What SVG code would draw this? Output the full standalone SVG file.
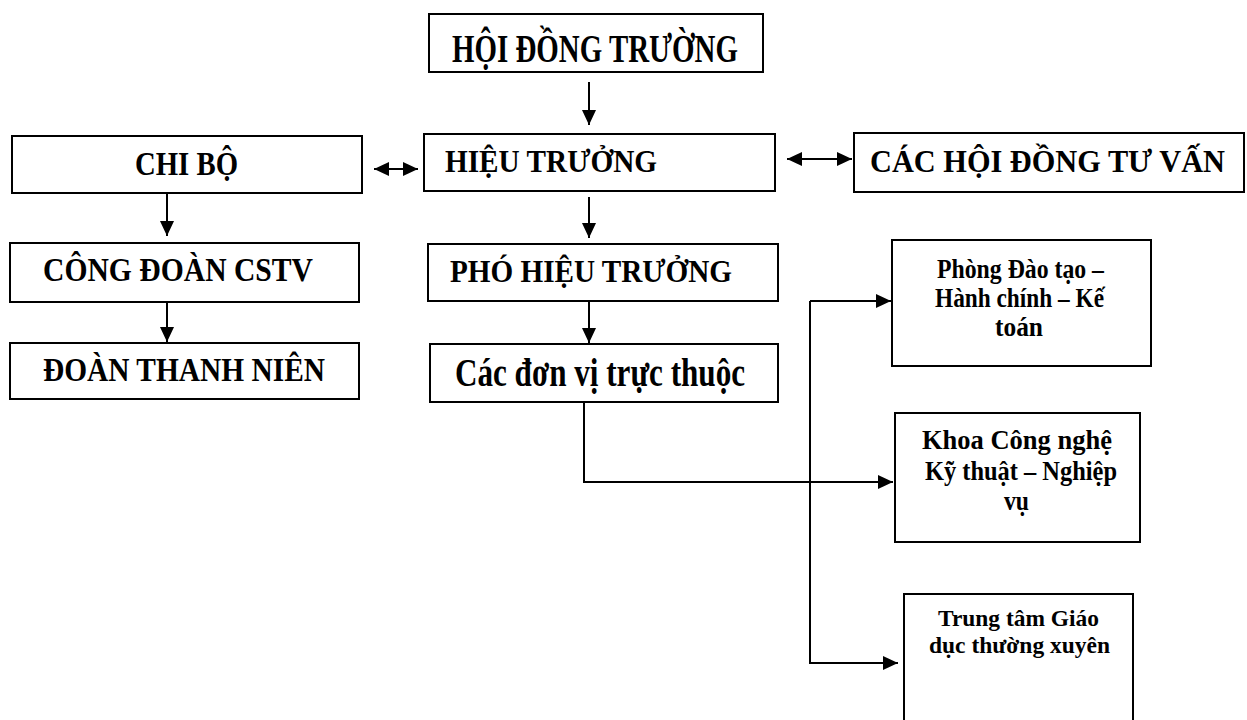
<svg xmlns="http://www.w3.org/2000/svg" width="1247" height="720" viewBox="0 0 1247 720">
<style>
  .box { fill: #fff; stroke: #000; stroke-width: 2; }
  .t { font-family: "Liberation Serif", "Times New Roman", serif; font-weight: bold; fill: #000; }
  .c { fill: none; stroke: #000; stroke-width: 2; }
</style>
<defs>
  <marker id="ah" markerUnits="userSpaceOnUse" markerWidth="17" markerHeight="15" refX="15" refY="7" orient="auto-start-reverse">
    <path d="M0,0 L15,7 L0,14 Z" fill="#000"/>
  </marker>
</defs>
<rect width="1247" height="720" fill="#fff"/>

<g id="connectors">
  <line class="c" x1="589" y1="82" x2="589" y2="125" marker-end="url(#ah)"/>
  <line class="c" x1="589" y1="197" x2="589" y2="238" marker-end="url(#ah)"/>
  <line class="c" x1="589" y1="301" x2="589" y2="343" marker-end="url(#ah)"/>
  <line class="c" x1="167" y1="193" x2="167" y2="236" marker-end="url(#ah)"/>
  <line class="c" x1="167" y1="302" x2="167" y2="342" marker-end="url(#ah)"/>
  <line class="c" x1="374" y1="169" x2="418" y2="169" marker-start="url(#ah)" marker-end="url(#ah)"/>
  <line class="c" x1="787" y1="159" x2="852" y2="159" marker-start="url(#ah)" marker-end="url(#ah)"/>
  <polyline class="c" points="584,402 584,482 893,482" marker-end="url(#ah)"/>
  <polyline class="c" points="810,301 891,301" marker-end="url(#ah)"/>
  <polyline class="c" points="810,301 810,663 898,663" marker-end="url(#ah)"/>
  <line class="c" x1="929" y1="268" x2="929" y2="329"/>
</g>

<g id="hoi-dong-truong">
  <rect class="box" x="429" y="14" width="334" height="58"/>
  <text class="t" x="452" y="62" font-size="41" textLength="286" lengthAdjust="spacingAndGlyphs">HỘI ĐỒNG TRƯỜNG</text>
</g>
<g id="chi-bo">
  <rect class="box" x="12" y="136" width="350" height="57"/>
  <text class="t" x="135" y="175" font-size="33" textLength="103" lengthAdjust="spacingAndGlyphs">CHI BỘ</text>
</g>
<g id="hieu-truong">
  <rect class="box" x="424" y="134" width="351" height="57"/>
  <text class="t" x="445" y="172" font-size="31" textLength="212" lengthAdjust="spacingAndGlyphs">HIỆU TRƯỞNG</text>
</g>
<g id="cac-hoi-dong-tu-van">
  <rect class="box" x="854" y="133" width="390" height="59"/>
  <text class="t" x="870" y="172" font-size="31" textLength="355" lengthAdjust="spacingAndGlyphs">CÁC HỘI ĐỒNG TƯ VẤN</text>
</g>
<g id="cong-doan">
  <rect class="box" x="10" y="243" width="349" height="59"/>
  <text class="t" x="43" y="281" font-size="33" textLength="270" lengthAdjust="spacingAndGlyphs">CÔNG ĐOÀN CSTV</text>
</g>
<g id="doan-thanh-nien">
  <rect class="box" x="10" y="343" width="349" height="56"/>
  <text class="t" x="43" y="381" font-size="33" textLength="282" lengthAdjust="spacingAndGlyphs">ĐOÀN THANH NIÊN</text>
</g>
<g id="pho-hieu-truong">
  <rect class="box" x="428" y="244" width="350" height="57"/>
  <text class="t" x="450" y="282" font-size="31" textLength="282" lengthAdjust="spacingAndGlyphs">PHÓ HIỆU TRƯỞNG</text>
</g>
<g id="cac-don-vi">
  <rect class="box" x="430" y="344" width="348" height="58"/>
  <text class="t" x="455" y="386" font-size="40" textLength="290" lengthAdjust="spacingAndGlyphs">Các đơn vị trực thuộc</text>
</g>
<g id="phong-dao-tao">
  <rect class="box" x="892" y="240" width="259" height="126"/>
  <text class="t" x="937" y="278" font-size="27" textLength="167" lengthAdjust="spacingAndGlyphs">Phòng Đào tạo –</text>
  <text class="t" x="935" y="307" font-size="27" textLength="169" lengthAdjust="spacingAndGlyphs">Hành chính – Kế</text>
  <text class="t" x="995" y="336" font-size="27" textLength="48" lengthAdjust="spacingAndGlyphs">toán</text>
</g>
<g id="khoa-cong-nghe">
  <rect class="box" x="895" y="413" width="245" height="129"/>
  <text class="t" x="922" y="449" font-size="27" textLength="190" lengthAdjust="spacingAndGlyphs">Khoa Công nghệ</text>
  <text class="t" x="925" y="480" font-size="27" textLength="192" lengthAdjust="spacingAndGlyphs">Kỹ thuật – Nghiệp</text>
  <text class="t" x="1004" y="510" font-size="27" textLength="25" lengthAdjust="spacingAndGlyphs">vụ</text>
</g>
<g id="trung-tam">
  <rect class="box" x="904" y="594" width="229" height="135"/>
  <text class="t" x="938" y="626" font-size="24" textLength="161" lengthAdjust="spacingAndGlyphs">Trung tâm Giáo</text>
  <text class="t" x="929" y="653" font-size="24" textLength="181" lengthAdjust="spacingAndGlyphs">dục thường xuyên</text>
</g>
</svg>
